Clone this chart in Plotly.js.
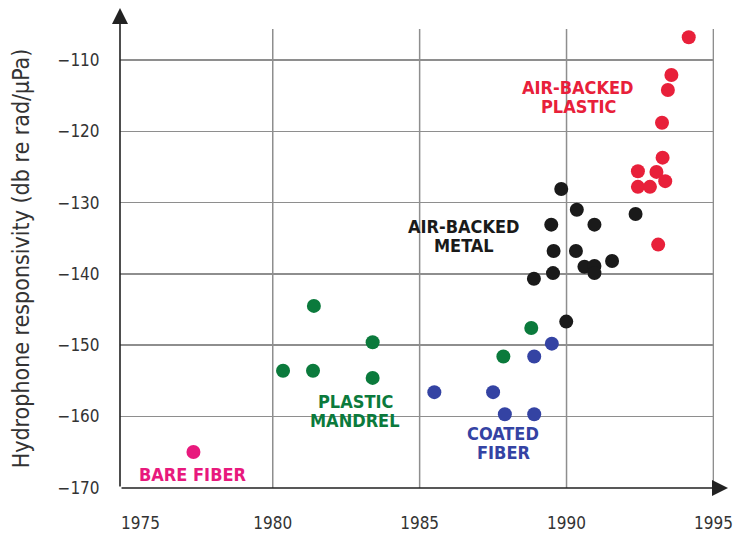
<!DOCTYPE html>
<html>
<head>
<meta charset="utf-8">
<script src="https://cdn.plot.ly/plotly-3.0.1.min.js"></script>
<style>html,body{margin:0;padding:0;background:#fff;}</style>
</head>
<body>
<div id="chart" style="width:735px;height:533px;"></div>
<script>
// ---- data (year, responsivity dB re rad/µPa) ----
const bareFiberX = [1977.3];
const bareFiberY = [-165.0];

const plasticMandrelX = [1980.35, 1981.37, 1981.4, 1983.4, 1983.4, 1987.85, 1988.8];
const plasticMandrelY = [-153.6, -153.6, -144.5, -149.6, -154.6, -151.6, -147.6];

const coatedFiberX = [1985.5, 1987.5, 1987.9, 1988.9, 1988.9, 1989.5];
const coatedFiberY = [-156.6, -156.6, -159.7, -159.7, -151.6, -149.8];

const airMetalX = [1989.82, 1990.35, 1989.48, 1990.95, 1989.56, 1990.32, 1991.55, 1990.61, 1990.95, 1990.95, 1989.54, 1988.89, 1989.99, 1992.35];
const airMetalY = [-128.1, -131.0, -133.1, -133.1, -136.8, -136.8, -138.2, -139.0, -138.9, -139.9, -139.9, -140.7, -146.7, -131.6];

const airPlasticX = [1994.16, 1993.57, 1993.45, 1993.25, 1993.27, 1992.43, 1993.06, 1992.43, 1992.84, 1993.36, 1993.12];
const airPlasticY = [-106.8, -112.1, -114.2, -118.8, -123.7, -125.6, -125.7, -127.8, -127.8, -127.0, -135.9];

const xTicks = [1975, 1980, 1985, 1990, 1995];
const xTickText = ['\u00a0\u00a0\u00a0\u00a0\u00a0\u00a01975', '1980', '1985', '1990', '1995'];
const yTicks = [-110, -120, -130, -140, -150, -160, -170];
const gridYears = [1980, 1985, 1990, 1995];

const groupLabels = [
  {lines: ['BARE FIBER'], x: 1977.3, y: -168.1, color: '#e8197d'},
  {lines: ['PLASTIC', 'MANDREL'], x: 1982.8, y: -159.3, color: '#0b7a3c'},
  {lines: ['COATED', 'FIBER'], x: 1987.85, y: -163.8, color: '#3443a3'},
  {lines: ['AIR-BACKED', 'METAL'], x: 1986.5, y: -134.7, color: '#1a1a1a'},
  {lines: ['AIR-BACKED', 'PLASTIC'], x: 1990.4, y: -115.2, color: '#e8203a'}
];

const FONT = 'DejaVu Sans Condensed, Liberation Sans Narrow, Arial Narrow, sans-serif';
const GRID = '#8e8e8e';

function series(x, y, color, name) {
  return {x: x, y: y, type: 'scatter', mode: 'markers', name: name,
    marker: {size: 14, color: color, line: {width: 0}}, hoverinfo: 'x+y'};
}

const data = [
  series(bareFiberX, bareFiberY, '#e8197d', 'Bare fiber'),
  series(plasticMandrelX, plasticMandrelY, '#0b7a3c', 'Plastic mandrel'),
  series(coatedFiberX, coatedFiberY, '#3443a3', 'Coated fiber'),
  series(airMetalX, airMetalY, '#1a1a1a', 'Air-backed metal'),
  series(airPlasticX, airPlasticY, '#e8203a', 'Air-backed plastic')
];

const LINE_H = 19;
const annotations = [];
groupLabels.forEach(g => {
  const n = g.lines.length;
  g.lines.forEach((t, i) => {
    annotations.push({
      text: '<b>' + t + '</b>', x: g.x, y: g.y, xref: 'x', yref: 'y',
      yshift: ((n - 1) / 2 - i) * LINE_H,
      showarrow: false, font: {family: FONT, size: 18, color: g.color},
      align: 'center', xanchor: 'center', yanchor: 'middle'
    });
  });
});

// axis arrows
annotations.push({
  x: 1.0236, y: 0, xref: 'paper', yref: 'paper', ax: -608, ay: 0,
  axref: 'pixel', ayref: 'pixel', text: '', showarrow: true,
  arrowhead: 2, arrowsize: 2, arrowwidth: 1.6, arrowcolor: '#222'
});
annotations.push({
  x: 0, y: 1.0458, xref: 'paper', yref: 'paper', ax: 0, ay: 480,
  axref: 'pixel', ayref: 'pixel', text: '', showarrow: true,
  arrowhead: 2, arrowsize: 2, arrowwidth: 1.6, arrowcolor: '#222'
});

const shapes = gridYears.map(yr => ({
  type: 'line', xref: 'x', yref: 'paper', x0: yr, x1: yr, y0: 0, y1: 1,
  line: {color: GRID, width: 1.5}, layer: 'below'
}));

const layout = {
  width: 735, height: 533,
  margin: {l: 120, r: 21, t: 29, b: 45},
  paper_bgcolor: '#fff', plot_bgcolor: '#fff',
  showlegend: false,
  font: {family: FONT, color: '#333'},
  xaxis: {
    range: [1974.8, 1995.02], tickvals: xTicks, ticktext: xTickText,
    showgrid: false, zeroline: false, showline: false,
    ticks: 'outside', ticklen: 20, tickcolor: 'rgba(0,0,0,0)',
    tickfont: {family: FONT, size: 17, color: '#333'}
  },
  yaxis: {
    range: [-170.05, -105.65], tickvals: yTicks,
    showgrid: true, gridcolor: GRID, gridwidth: 1.5,
    zeroline: false, showline: false,
    ticks: 'outside', ticklen: 16, tickcolor: 'rgba(0,0,0,0)',
    tickfont: {family: FONT, size: 17, color: '#333'},
    title: {text: 'Hydrophone responsivity (db re rad/\u03bcPa)', standoff: 21,
      font: {family: FONT, size: 23, color: '#333'}}
  },
  shapes: shapes,
  annotations: annotations
};

Plotly.newPlot('chart', data, layout, {displayModeBar: false, staticPlot: true});
</script>
</body>
</html>
